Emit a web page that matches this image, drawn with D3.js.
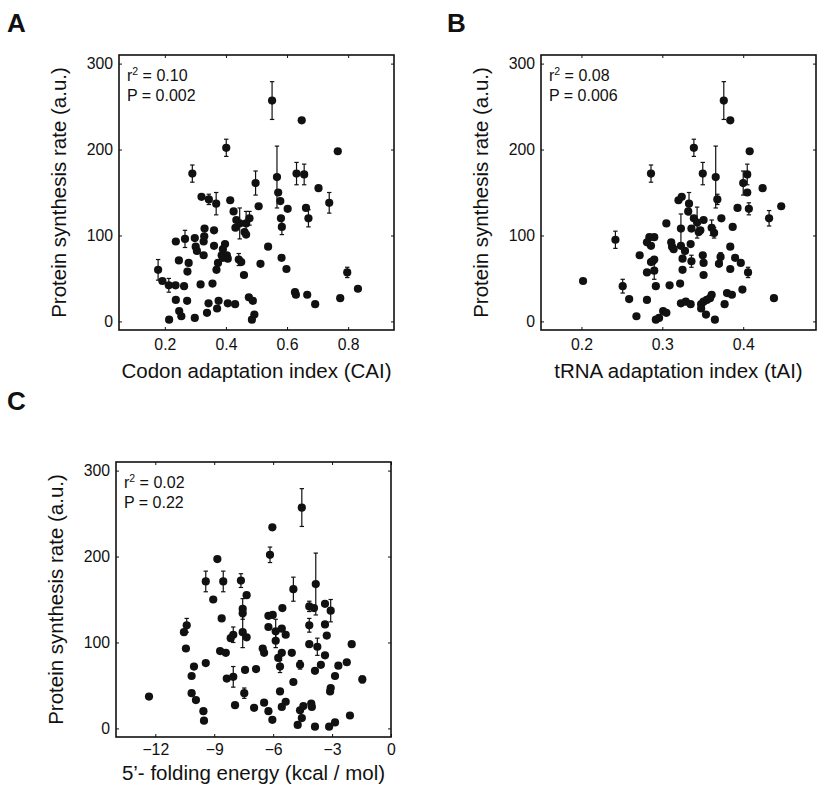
<!DOCTYPE html>
<html>
<head>
<meta charset="utf-8">
<script src="https://cdn.jsdelivr.net/npm/d3@7"></script>
<style>
  html, body { margin: 0; padding: 0; background: #fff; }
  svg { display: block; font-family: "Liberation Sans", Arial, Helvetica, sans-serif; }
</style>
</head>
<body>
<svg id="chart" width="821" height="788"></svg>
<script>
// ---------- DATA ----------
const yTicks = [0, 100, 200, 300];
const yLabel = "Protein synthesis rate (a.u.)";

// Panel A: Codon adaptation index
const caiTicks = [0.2, 0.4, 0.6, 0.8];
const caiX = [0.551,0.648,0.401,0.766,0.290,0.497,0.567,0.571,0.631,0.656,0.703,0.578,0.602,0.738,0.662,0.670,0.580,0.583,0.538,0.582,0.598,0.626,0.629,0.666,0.692,0.774,0.797,0.832,0.507,0.477,0.425,0.414,0.434,0.431,0.445,0.466,0.461,0.466,0.320,0.344,0.368,0.330,0.361,0.329,0.327,0.298,0.266,0.236,0.301,0.305,0.327,0.361,0.397,0.390,0.386,0.403,0.406,0.390,0.442,0.450,0.374,0.369,0.513,0.459,0.278,0.246,0.274,0.178,0.192,0.213,0.235,0.263,0.317,0.356,0.236,0.273,0.343,0.376,0.371,0.338,0.406,0.430,0.475,0.488,0.247,0.254,0.298,0.214,0.493,0.485];
const caiY = [257,234,202,198,172,161,168,150,172,171,155,140,131,138,132,120,120,110,87,74,61,34,31,31,20,27,57,38,134,120,128,141,118,109,114,114,104,101,145,142,137,108,106,99,93,97,96,93,87,82,77,88,90,84,77,77,73,74,72,69,68,60,67,54,68,71,58,60,47,42,42,41,43,44,25,24,21,24,15,10,21,20,28,24,12,6,4,2,8,2];
const caiErr = [22,0,10,0,10,14,36,0,13,12,0,0,0,12,0,10,0,9,0,0,0,0,0,0,0,0,6,0,0,8,0,0,0,0,18,14,0,0,0,6,13,0,0,0,0,0,10,0,0,0,0,0,0,0,0,0,0,0,7,0,0,0,0,0,0,0,0,12,0,8,0,0,0,0,0,0,0,0,0,0,0,0,0,0,0,0,0,0,0,0];

// Panel B: tRNA adaptation index
const taiTicks = [0.2, 0.3, 0.4];
const taiX = [0.376,0.384,0.339,0.408,0.286,0.350,0.366,0.405,0.400,0.424,0.405,0.320,0.324,0.333,0.368,0.393,0.407,0.432,0.447,0.332,0.339,0.343,0.336,0.347,0.345,0.351,0.361,0.364,0.373,0.387,0.305,0.323,0.284,0.290,0.281,0.286,0.242,0.311,0.312,0.314,0.323,0.335,0.328,0.272,0.288,0.290,0.286,0.281,0.290,0.292,0.251,0.202,0.309,0.322,0.325,0.325,0.336,0.350,0.351,0.351,0.372,0.370,0.384,0.390,0.384,0.397,0.406,0.399,0.380,0.386,0.377,0.438,0.361,0.359,0.355,0.351,0.348,0.348,0.354,0.365,0.323,0.329,0.335,0.281,0.259,0.268,0.301,0.305,0.292,0.296];
const taiY = [257,234,202,198,172,172,168,171,161,155,150,141,145,137,142,132,131,120,134,128,120,115,108,106,104,118,109,103,120,110,114,108,98,98,92,88,95,92,87,84,88,90,82,77,70,72,69,57,59,41,41,47,42,44,73,60,70,77,68,54,75,67,87,74,61,68,57,37,33,31,20,27,31,27,25,23,20,15,8,2,21,23,20,25,26,6,12,10,2,4];
const taiErr = [22,0,10,0,10,13,36,12,14,0,0,0,0,13,6,0,7,9,0,0,0,18,0,0,0,0,9,6,0,0,0,17,0,0,0,0,10,0,0,0,0,0,0,0,0,0,0,0,10,0,8,0,0,0,0,0,7,0,0,0,5,0,0,0,0,0,6,0,0,0,0,0,0,0,0,0,0,0,0,0,0,0,0,0,0,0,0,0,0,0];

// Panel C: 5'-folding energy
const foldTicks = [-12, -9, -6, -3, 0];
const foldX = [-4.54,-6.04,-6.16,-8.84,-9.43,-8.54,-7.64,-3.83,-4.97,-9.05,-7.35,-7.55,-7.55,-7.55,-7.35,-4.16,-3.92,-3.07,-3.36,-5.53,-6.24,-6.02,-6.24,-5.87,-5.56,-5.36,-5.87,-5.74,-5.65,-5.56,-5.05,-10.4,-10.54,-10.44,-8.62,-8.16,-8.03,-8.7,-8.41,-10.03,-9.43,-10.15,-8.36,-8.03,-7.43,-6.87,-6.53,-6.46,-4.63,-4.97,-4.16,-3.75,-3.36,-3.57,-3.87,-3.27,-3.36,-4.16,-2.68,-2.85,-3.07,-3.1,-2.25,-2.0,-2.09,-5.65,-7.47,-10.15,-9.93,-7.94,-6.97,-6.46,-6.24,-6.04,-5.56,-5.36,-4.63,-4.46,-4.54,-4.06,-4.03,-4.75,-3.87,-3.15,-2.85,-9.55,-9.52,-12.32,-1.46];
const foldY = [257,234,202,197,171,171,172,168,162,150,155,139,134,112,106,142,140,137,145,140,131,132,118,113,116,109,102,82,72,88,88,120,112,93,128,105,109,90,88,72,76,61,58,60,68,69,93,88,74,54,98,95,85,74,67,108,121,120,73,61,47,43,77,98,15,43,41,41,33,27,24,30,20,10,25,31,21,26,12,29,25,4,2,2,7,20,9,37,57];
const foldErr = [22,0,9,0,12,12,8,36,14,0,0,12,0,18,0,6,0,13,0,0,0,0,0,14,0,0,8,0,7,0,0,8,0,0,0,0,9,0,0,0,0,0,0,12,0,0,0,0,5,0,0,10,0,0,0,0,0,8,0,0,0,0,0,0,0,0,6,0,0,0,0,0,0,0,0,0,0,0,0,0,0,0,0,0,0,0,0,0,4];

// ---------- DRAW ----------
const svg = d3.select("#chart");
const ink = "#111";

const panels = [
  { letter: "A", lx: 7, ly: 32, bx: 119, by: 55, xDomain: [0.05, 0.95], xTicks: caiTicks,
    xFmt: d3.format(".1f"), xLabel: "Codon adaptation index (CAI)", r2: "0.10", p: "0.002",
    xs: caiX, ys: caiY, es: caiErr, xLabelGap: 48, tickPad: 9 },
  { letter: "B", lx: 447, ly: 32, bx: 541, by: 55, xDomain: [0.15, 0.49], xTicks: taiTicks,
    xFmt: d3.format(".1f"), xLabel: "tRNA adaptation index (tAI)", r2: "0.08", p: "0.006",
    xs: taiX, ys: taiY, es: taiErr, xLabelGap: 48, tickPad: 9 },
  { letter: "C", lx: 7, ly: 410, bx: 116, by: 462, xDomain: [-14, 0], xTicks: foldTicks,
    xFmt: d => d === 0 ? "0" : (d < 0 ? "\u2212" + Math.abs(d) : String(d)),
    xLabel: "5\u2019- folding energy (kcal / mol)", r2: "0.02", p: "0.22",
    xs: foldX, ys: foldY, es: foldErr, xLabelGap: 43, tickPad: 7 }
];

const size = 275;

panels.forEach(P => {
  const g = svg.append("g").attr("transform", `translate(${P.bx},${P.by})`);
  const x = d3.scaleLinear().domain(P.xDomain).range([0, size]);
  const y = d3.scaleLinear().domain([-10, 310]).range([size, 0]);

  // panel letter
  svg.append("text").attr("x", P.lx).attr("y", P.ly)
    .attr("font-size", 26).attr("font-weight", "bold").attr("fill", ink).text(P.letter);

  // axes (inward ticks on all four sides)
  const fs = 15.8;
  const ax = g.append("g").attr("transform", `translate(0,${size})`)
    .call(d3.axisBottom(x).tickValues(P.xTicks).tickFormat(P.xFmt).tickSize(-3).tickPadding(P.tickPad));
  const ay = g.append("g")
    .call(d3.axisLeft(y).tickValues(yTicks).tickFormat(d3.format("d")).tickSize(-3).tickPadding(6));
  const at = g.append("g")
    .call(d3.axisTop(x).tickValues(P.xTicks).tickFormat("").tickSize(-3));
  const ar = g.append("g").attr("transform", `translate(${size},0)`)
    .call(d3.axisRight(y).tickValues(yTicks).tickFormat("").tickSize(-3));
  [ax, ay, at, ar].forEach(a => {
    a.select(".domain").remove();
    a.selectAll("line").attr("stroke", ink).attr("stroke-width", 1);
    a.selectAll("text").attr("font-size", fs).attr("fill", ink)
      .attr("font-family", "'Liberation Sans', Arial, sans-serif");
  });

  // box
  g.append("rect").attr("x", 0).attr("y", 0).attr("width", size).attr("height", size)
    .attr("fill", "none").attr("stroke", ink).attr("stroke-width", 1.6);

  // data
  const pts = P.xs.map((v, i) => ({ x: v, y: P.ys[i], e: P.es[i] }));
  const eb = g.append("g").attr("stroke", ink).attr("stroke-width", 1.2);
  pts.filter(d => d.e > 0).forEach(d => {
    const cx = x(d.x), y1 = y(d.y - d.e), y2 = y(d.y + d.e);
    eb.append("line").attr("x1", cx).attr("x2", cx).attr("y1", y1).attr("y2", y2);
    eb.append("line").attr("x1", cx - 2.2).attr("x2", cx + 2.2).attr("y1", y1).attr("y2", y1);
    eb.append("line").attr("x1", cx - 2.2).attr("x2", cx + 2.2).attr("y1", y2).attr("y2", y2);
  });
  g.append("g").selectAll("circle").data(pts).join("circle")
    .attr("cx", d => x(d.x)).attr("cy", d => y(d.y)).attr("r", 4.1).attr("fill", ink);

  // stats text
  const st = g.append("text").attr("x", 8).attr("y", 26).attr("font-size", 16).attr("fill", ink);
  st.append("tspan").text("r");
  st.append("tspan").attr("font-size", 10.5).attr("dy", -6).text("2");
  st.append("tspan").attr("dy", 6).text(" = " + P.r2);
  g.append("text").attr("x", 8).attr("y", 46).attr("font-size", 16).attr("fill", ink).text("P = " + P.p);

  // axis labels
  g.append("text").attr("x", size / 2).attr("y", size + P.xLabelGap)
    .attr("text-anchor", "middle").attr("font-size", 20.5).attr("fill", ink).text(P.xLabel);
  g.append("text").attr("transform", `translate(-53,${size / 2}) rotate(-90)`)
    .attr("text-anchor", "middle").attr("font-size", 20.5).attr("fill", ink).text(yLabel);
});
</script>
</body>
</html>
